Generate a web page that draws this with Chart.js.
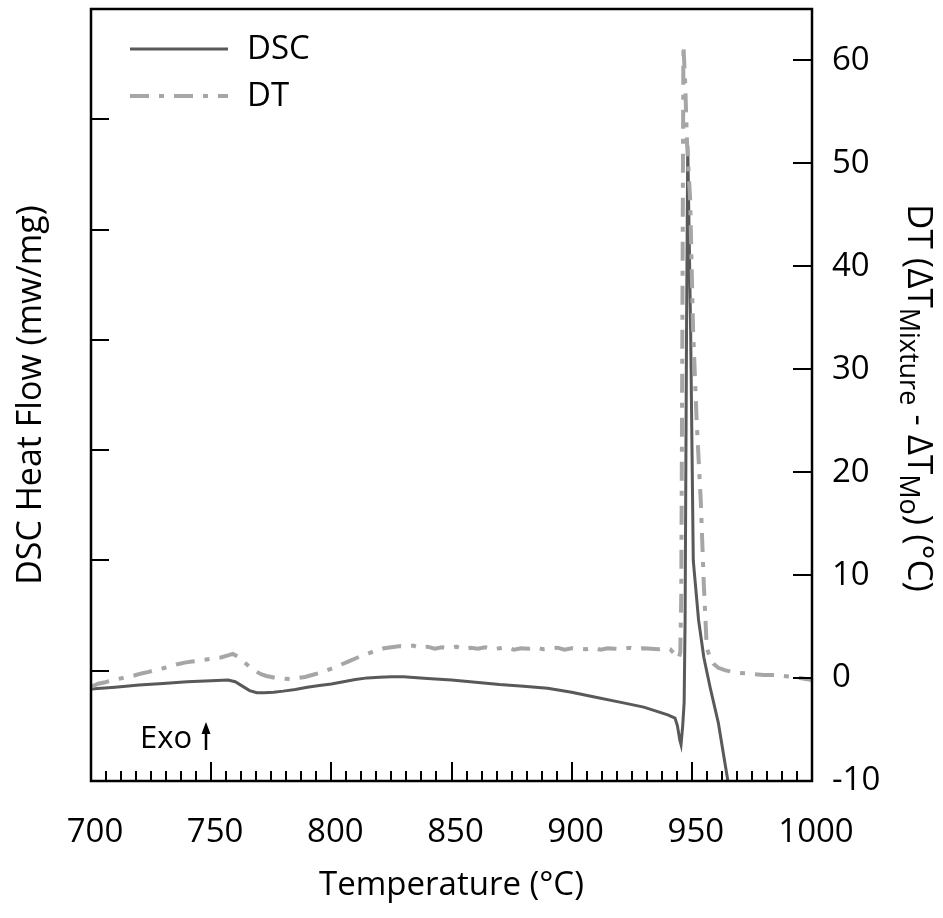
<!DOCTYPE html>
<html>
<head>
<meta charset="utf-8">
<script src="https://cdn.jsdelivr.net/npm/chart.js@4.4.1/dist/chart.umd.min.js"></script>
<style>
  html, body { margin: 0; padding: 0; background: #fff; }
  #wrap { width: 943px; height: 918px; position: relative; }
</style>
</head>
<body>
<div id="wrap"><canvas id="c"></canvas></div>
<script>
// DSC heat flow (left axis, arbitrary mW/mg units) versus temperature
const dscTemp = [700, 710, 720, 730, 740, 750, 757, 760, 763, 766, 769, 772, 776, 780, 785, 790, 795, 800,
  805, 810, 815, 820, 825, 830, 840, 850, 860, 870, 880, 890, 900, 910, 920, 930, 940, 943, 944, 945,
  945.5, 946.2, 946.8, 947.2, 947.8, 948.3, 949.5, 950.6, 951.0, 952.8, 955, 957.6, 961, 964.7, 968];
const dscFlow = [-0.166, -0.15, -0.13, -0.115, -0.1, -0.09, -0.085, -0.1, -0.14, -0.18, -0.2, -0.2, -0.195,
  -0.185, -0.17, -0.15, -0.135, -0.12, -0.1, -0.08, -0.065, -0.06, -0.055, -0.055, -0.07, -0.085, -0.105,
  -0.125, -0.14, -0.16, -0.195, -0.24, -0.285, -0.33, -0.4, -0.43, -0.5, -0.63, -0.67, -0.5, -0.29, 0.46,
  3.09, 4.76, 3.09, 1.0, 0.9, 0.46, 0.12, -0.15, -0.47, -0.96, -1.4];

// DT = dT(mixture) - dT(Mo), right axis, degrees C
const dtTemp = [700, 703, 706, 709, 712, 715, 718, 721, 724, 727, 730, 733, 736, 739, 742, 745, 748, 751,
  754, 757, 759, 761, 763, 765, 767, 769, 771, 773, 775, 777, 780, 783, 786, 789, 792, 795, 798, 801, 804,
  807, 810, 813, 816, 819, 822, 825, 828, 831, 834, 837, 840, 843, 846, 849, 852, 855, 858, 861, 864, 867,
  870, 873, 876, 879, 882, 885, 888, 891, 894, 897, 900, 903, 906, 909, 912, 915, 918, 921, 924, 927, 930,
  933, 936, 939, 941, 943, 944.5, 945.2, 945.6, 946.0, 946.5, 947.2, 948.0, 949.3, 950.5, 952, 953.7, 955,
  956.2, 957.5, 959, 961, 964, 967, 970, 975, 980, 985, 990, 995, 1000];
const dtDelta = [-0.85, -0.55, -0.4, -0.2, -0.05, 0.1, 0.25, 0.45, 0.6, 0.8, 0.95, 1.15, 1.35, 1.5, 1.6, 1.7,
  1.8, 1.9, 2.0, 2.2, 2.35, 2.1, 1.7, 1.3, 0.9, 0.6, 0.35, 0.2, 0.1, 0.0, -0.05, -0.1, 0.0, 0.1, 0.3, 0.5,
  0.75, 1.0, 1.3, 1.6, 1.9, 2.2, 2.45, 2.7, 2.9, 3.0, 3.1, 3.05, 3.15, 2.95, 3.05, 2.85, 3.0, 2.9, 3.05, 2.8,
  2.95, 2.85, 3.0, 2.8, 2.9, 3.0, 2.75, 2.9, 2.85, 3.0, 2.8, 2.9, 2.95, 2.75, 2.9, 2.85, 2.8, 2.95, 2.75, 2.9,
  2.85, 2.8, 2.95, 2.8, 2.9, 2.85, 2.8, 2.9, 2.8, 2.3, 1.9, 2.5, 8, 30, 61.5, 58, 52, 46.5, 34, 25, 17.3, 9,
  3.0, 2.0, 1.4, 1.0, 0.75, 0.6, 0.5, 0.4, 0.3, 0.3, 0.15, 0.0, -0.2];

// Axis tick labels
const tempTicks = [700, 750, 800, 850, 900, 950, 1000];
const dtTicks = [-10, 0, 10, 20, 30, 40, 50, 60];

const FONT = '"Open Sans", "DejaVu Sans", sans-serif';
const DSC_COLOR = '#595959';
const DT_COLOR = '#a6a6a6';

const toPoints = (xs, ys) => xs.map((x, i) => ({ x, y: ys[i] }));

// fixed scale box sizes, no automatic edge padding
const fixBox = dims => s => {
  Object.assign(s, dims);
  s.paddingTop = 0; s.paddingBottom = 0; s.paddingLeft = 0; s.paddingRight = 0;
};

// Inward tick marks, frame, legend, exo marker and the right-hand title with subscripts
const decorations = {
  id: 'decorations',
  afterDraw(chart) {
    const { ctx, chartArea: a, scales } = chart;
    ctx.save();
    ctx.strokeStyle = '#000';
    ctx.lineWidth = 2;
    ctx.lineCap = 'butt';

    // x ticks: major every 50, minor in between
    scales.x.ticks.forEach(t => {
      if (t.value <= scales.x.min || t.value >= scales.x.max) return;
      const px = Math.round(scales.x.getPixelForValue(t.value));
      const len = tempTicks.includes(t.value) ? 19 : 10;
      ctx.beginPath();
      ctx.moveTo(px, a.bottom);
      ctx.lineTo(px, a.bottom - len);
      ctx.stroke();
    });
    // left axis ticks
    scales.y.ticks.forEach(t => {
      if (t.value <= scales.y.min || t.value >= scales.y.max) return;
      const py = Math.round(scales.y.getPixelForValue(t.value));
      ctx.beginPath();
      ctx.moveTo(a.left, py);
      ctx.lineTo(a.left + 18, py);
      ctx.stroke();
    });
    // right axis ticks
    scales.y2.ticks.forEach(t => {
      if (t.value <= scales.y2.min || t.value >= scales.y2.max) return;
      const py = Math.round(scales.y2.getPixelForValue(t.value));
      ctx.beginPath();
      ctx.moveTo(a.right, py);
      ctx.lineTo(a.right - 19, py);
      ctx.stroke();
    });

    // frame
    ctx.lineWidth = 2.5;
    ctx.strokeRect(a.left, a.top, a.right - a.left, a.bottom - a.top);

    // legend
    const ds = chart.data.datasets;
    const legendRows = [49, 96];
    ds.forEach((d, i) => {
      const y = legendRows[i];
      ctx.save();
      ctx.strokeStyle = d.borderColor;
      ctx.lineWidth = d.borderWidth;
      ctx.setLineDash(d.borderDash || []);
      ctx.beginPath();
      ctx.moveTo(130, y);
      ctx.lineTo(228, y);
      ctx.stroke();
      ctx.restore();
      ctx.fillStyle = '#000';
      ctx.font = '33px ' + FONT;
      ctx.textBaseline = 'middle';
      ctx.textAlign = 'left';
      ctx.fillText(d.label, 247, y + 1);
    });

    // exothermic direction marker
    ctx.fillStyle = '#000';
    ctx.font = '31px ' + FONT;
    ctx.textBaseline = 'alphabetic';
    ctx.textAlign = 'left';
    ctx.fillText('Exo', 140, 748);
    ctx.lineWidth = 2.5;
    ctx.beginPath();
    ctx.moveTo(206, 750);
    ctx.lineTo(206, 731);
    ctx.stroke();
    ctx.beginPath();
    ctx.moveTo(206, 722);
    ctx.lineTo(201.5, 734);
    ctx.lineTo(210.5, 734);
    ctx.closePath();
    ctx.fill();

    // right axis title, rotated clockwise, with subscripts
    const parts = [
      { t: 'DT (\u0394T', sub: false },
      { t: 'Mixture', sub: true },
      { t: ' - \u0394T', sub: false },
      { t: 'Mo', sub: true },
      { t: ') (\u00B0C)', sub: false }
    ];
    const mainFont = '35px ' + FONT, subFont = '27px ' + FONT;
    let total = 0;
    parts.forEach(p => { ctx.font = p.sub ? subFont : mainFont; p.w = ctx.measureText(p.t).width; total += p.w; });
    ctx.translate(908, 398);
    ctx.rotate(Math.PI / 2);
    let x = -total / 2;
    parts.forEach(p => {
      ctx.font = p.sub ? subFont : mainFont;
      ctx.fillText(p.t, x, p.sub ? 8 : 0);
      x += p.w;
    });
    ctx.restore();
  }
};

new Chart(document.getElementById('c'), {
  type: 'line',
  data: {
    datasets: [
      {
        label: 'DSC',
        data: toPoints(dscTemp, dscFlow),
        yAxisID: 'y',
        borderColor: DSC_COLOR,
        borderWidth: 3,
        pointRadius: 0,
        tension: 0,
        order: 2,
        clip: 0
      },
      {
        label: 'DT',
        data: toPoints(dtTemp, dtDelta),
        yAxisID: 'y2',
        borderColor: DT_COLOR,
        borderWidth: 4,
        borderDash: [19, 10, 5, 10],
        pointRadius: 0,
        tension: 0,
        order: 1,
        clip: 0
      }
    ]
  },
  options: {
    responsive: true,
    maintainAspectRatio: false,
    animation: false,
    devicePixelRatio: 1,
    layout: { autoPadding: false, padding: { top: 9, left: 0, right: 0, bottom: 0 } },
    plugins: { legend: { display: false }, title: { display: false }, tooltip: { enabled: false } },
    scales: {
      x: {
        type: 'linear',
        min: 700,
        max: 1000,
        grid: { display: false, drawTicks: false },
        border: { display: false },
        afterFit: fixBox({ height: 137 }),
        ticks: {
          stepSize: 6.25,
          autoSkip: false,
          maxRotation: 0,
          padding: 32,
          labelOffset: 4,
          color: '#000',
          font: { family: FONT, size: 33 },
          callback: v => tempTicks.includes(v) ? String(v) : ''
        },
        title: {
          display: true,
          text: 'Temperature (\u00B0C)',
          color: '#000',
          font: { family: FONT, size: 33 },
          padding: { top: 0, bottom: 13 }
        }
      },
      y: {
        type: 'linear',
        position: 'left',
        min: -1,
        max: 6,
        grid: { display: false, drawTicks: false },
        border: { display: false },
        afterFit: fixBox({ width: 91 }),
        ticks: { stepSize: 1, display: false },
        title: {
          display: true,
          text: 'DSC Heat Flow (mw/mg)',
          color: '#000',
          font: { family: FONT, size: 34 },
          padding: { top: 11, bottom: 0 }
        }
      },
      y2: {
        type: 'linear',
        position: 'right',
        min: -10,
        max: 65,
        grid: { display: false, drawTicks: false },
        border: { display: false },
        afterFit: fixBox({ width: 131 }),
        ticks: {
          stepSize: 10,
          includeBounds: false,
          padding: 20,
          color: '#000',
          font: { family: FONT, size: 33 },
          callback: v => dtTicks.includes(v) ? String(v) : ''
        }
      }
    }
  },
  plugins: [decorations]
});
</script>
</body>
</html>
